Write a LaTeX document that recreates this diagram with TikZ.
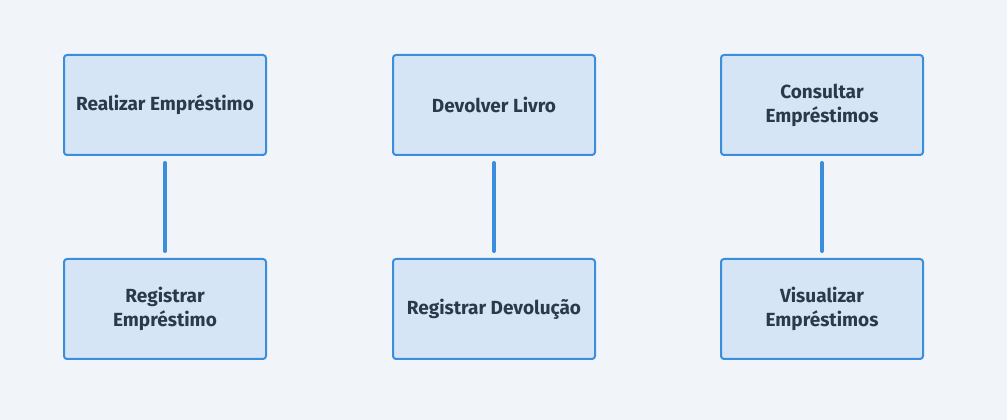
\documentclass[tikz,border=0pt]{standalone}
\usepackage{fontspec}
\setmainfont{Fira Sans}
\definecolor{bgc}{HTML}{F1F5F9}
\definecolor{boxfill}{HTML}{D5E5F5}
\definecolor{boxline}{HTML}{3A8EDB}
\definecolor{txt}{HTML}{2B3A4B}
\tikzset{
  stepbox/.style={draw=boxline, fill=boxfill, line width=2pt, rounded corners=3pt,
    minimum width=202pt, minimum height=100pt, align=center, text=txt,
    font=\fontsize{19}{24}\selectfont\bfseries, inner sep=0pt},
  link/.style={draw=boxline, line width=4pt, line cap=round, shorten >=7pt, shorten <=7pt}
}
\begin{document}
\begin{tikzpicture}[x=1pt,y=1pt]
\fill[bgc] (0,0) rectangle (1007,420);
\useasboundingbox (0,0) rectangle (1007,420);
\node[stepbox] (a1) at (165,315) {Realizar Empréstimo};
\node[stepbox] (a2) at (165,111) {Registrar\\Empréstimo};
\node[stepbox] (b1) at (494,315) {Devolver Livro};
\node[stepbox] (b2) at (494,111) {Registrar Devolução};
\node[stepbox] (c1) at (822,315) {Consultar\\Empréstimos};
\node[stepbox] (c2) at (822,111) {Visualizar\\Empréstimos};
\draw[link] (a1) -- (a2);
\draw[link] (b1) -- (b2);
\draw[link] (c1) -- (c2);
\end{tikzpicture}
\end{document}
